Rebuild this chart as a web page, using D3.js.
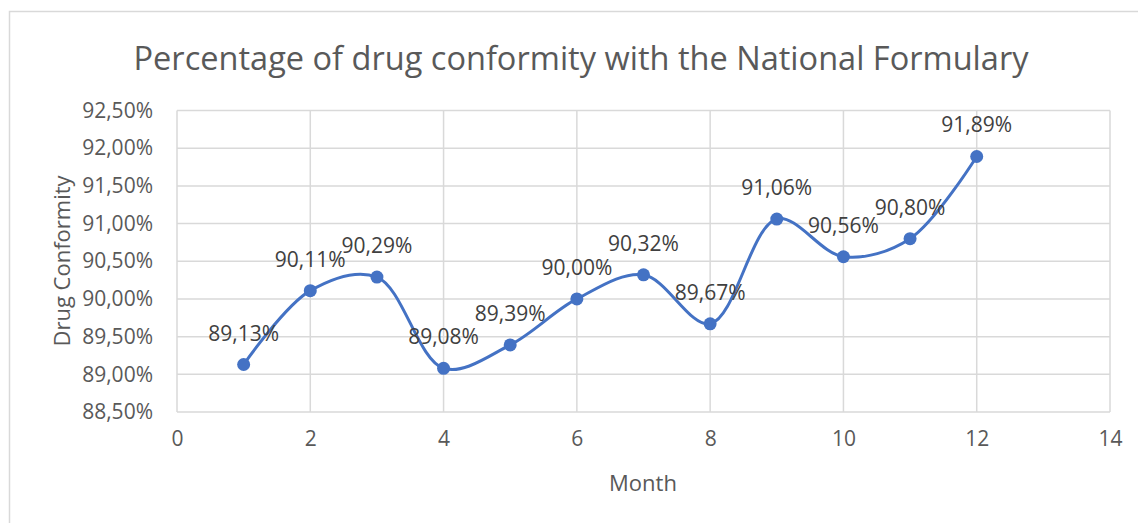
<!DOCTYPE html>
<html>
<head>
<meta charset="utf-8">
<script src="https://cdn.jsdelivr.net/npm/d3@7"></script>
<style>
  html, body { margin: 0; padding: 0; background: #ffffff; }
  svg { display: block; }
  text { font-family: "Open Sans", "Noto Sans", sans-serif; fill: #595959; }
</style>
</head>
<body>
<svg id="chart" width="1138" height="523"></svg>
<script>
// Monthly share of prescribed drugs that conform to the National Formulary
const months = [1, 2, 3, 4, 5, 6, 7, 8, 9, 10, 11, 12];
const conformity = [89.13, 90.11, 90.29, 89.08, 89.39, 90.00, 90.32, 89.67, 91.06, 90.56, 90.80, 91.89];
const xTicks = [0, 2, 4, 6, 8, 10, 12, 14];
const yTicks = [88.5, 89.0, 89.5, 90.0, 90.5, 91.0, 91.5, 92.0, 92.5];

const titleText = "Percentage of drug conformity with the National Formulary";
const xTitle = "Month";
const yTitle = "Drug Conformity";

const svg = d3.select("#chart");
const W = 1138, H = 523;
const plot = { left: 177, right: 1110, top: 110.5, bottom: 412 };

const fmtPct = v => v.toFixed(2).replace(".", ",") + "%";

// chart area frame
svg.append("rect")
  .attr("x", 9.5).attr("y", 11.5)
  .attr("width", W + 20).attr("height", H + 20)
  .attr("fill", "#ffffff")
  .attr("stroke", "#d9d9d9").attr("stroke-width", 1.5);

const x = d3.scaleLinear().domain([0, 14]).range([plot.left, plot.right]);
const y = d3.scaleLinear().domain([88.5, 92.5]).range([plot.bottom, plot.top]);

// gridlines
const grid = svg.append("g").attr("stroke", "#d9d9d9").attr("stroke-width", 1.5);
grid.selectAll("line.h").data(yTicks).join("line")
  .attr("x1", plot.left).attr("x2", plot.right)
  .attr("y1", d => y(d)).attr("y2", d => y(d));
grid.selectAll("line.v").data(xTicks).join("line")
  .attr("y1", plot.top).attr("y2", plot.bottom)
  .attr("x1", d => x(d)).attr("x2", d => x(d));

// axes (labels only, lines come from the grid)
const yAxis = svg.append("g")
  .attr("transform", `translate(${plot.left - 24},0)`)
  .call(d3.axisLeft(y).tickValues(yTicks).tickFormat(fmtPct).tickSize(0).tickPadding(0));
yAxis.select(".domain").remove();
yAxis.selectAll("text").style("font-size", "21px").attr("fill", "#595959");

const xAxis = svg.append("g")
  .attr("transform", `translate(0,${plot.bottom + 19})`)
  .call(d3.axisBottom(x).tickValues(xTicks).tickFormat(d3.format("d")).tickSize(0).tickPadding(0));
xAxis.select(".domain").remove();
xAxis.selectAll("text").style("font-size", "21px").attr("fill", "#595959");

// smoothed series line
const pts = months.map((m, i) => [m, conformity[i]]);
const line = d3.line()
  .x(d => x(d[0])).y(d => y(d[1]))
  .curve(d3.curveCatmullRom.alpha(0.5));

svg.append("path")
  .datum(pts)
  .attr("d", line)
  .attr("fill", "none")
  .attr("stroke", "#4472c4")
  .attr("stroke-width", 3)
  .attr("stroke-linecap", "round");

svg.append("g").selectAll("circle").data(pts).join("circle")
  .attr("cx", d => x(d[0])).attr("cy", d => y(d[1]))
  .attr("r", 6.5)
  .attr("fill", "#4472c4");

// value labels above each point
svg.append("g").selectAll("text").data(pts).join("text")
  .attr("x", d => x(d[0]))
  .attr("y", d => y(d[1]) - 24)
  .attr("text-anchor", "middle")
  .style("font-size", "21px")
  .style("fill", "#404040")
  .text(d => fmtPct(d[1]));

// titles
svg.append("text")
  .attr("x", 581).attr("y", 70)
  .attr("text-anchor", "middle")
  .attr("textLength", 895).attr("lengthAdjust", "spacingAndGlyphs")
  .style("font-size", "32px")
  .text(titleText);

svg.append("text")
  .attr("x", 643).attr("y", 491)
  .attr("text-anchor", "middle")
  .style("font-size", "22px")
  .text(xTitle);

svg.append("text")
  .attr("transform", `translate(70,261) rotate(-90)`)
  .attr("text-anchor", "middle")
  .style("font-size", "22px")
  .text(yTitle);
</script>
</body>
</html>
